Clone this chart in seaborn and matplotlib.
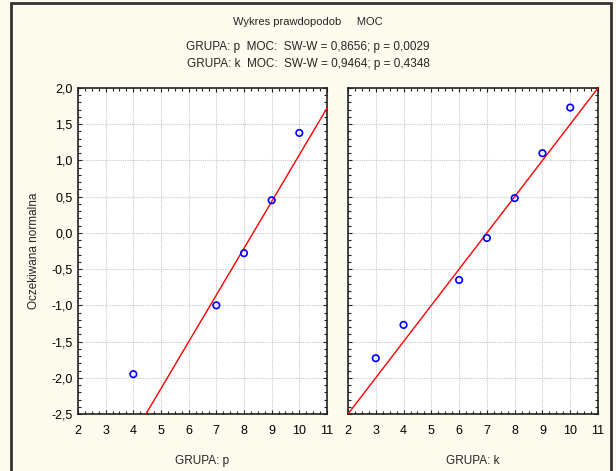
import numpy as np
import pandas as pd
import seaborn as sns
import matplotlib
matplotlib.use("Agg")
import matplotlib.pyplot as plt
from matplotlib.ticker import FuncFormatter, MultipleLocator
from matplotlib.patches import Rectangle

# ---- data ----
groups = ["p", "k"]
p_x = [4, 7, 8, 9, 10]
p_y = [-1.95, -1.0, -0.28, 0.45, 1.38]
k_x = [3, 4, 6, 7, 8, 9, 10]
k_y = [-1.73, -1.27, -0.65, -0.07, 0.48, 1.10, 1.73]
# normal reference line: expected = (x - mean) / sd
line_mean = [8.33, 7.0]
line_sd = [1.55, 2.0]
title = "Wykres prawdopodob     MOC"
stats_lines = ["GRUPA: p  MOC:  SW-W = 0,8656; p = 0,0029",
               "GRUPA: k  MOC:  SW-W = 0,9464; p = 0,4348"]
y_label = "Oczekiwana normalna"
x_labels = ["GRUPA: p", "GRUPA: k"]

sns.set_theme(style="white")
plt.rcParams['font.family'] = ['Liberation Sans', 'DejaVu Sans']

W, H = 616, 471
fig = plt.figure(figsize=(W / 100, H / 100), dpi=100)
fig.patch.set_facecolor("#FDFAEE")

# dark frame around figure
fig.add_artist(Rectangle((10.5 / W, -0.05), (611 - 10.5) / W, 1 - 3 / H + 0.05,
                         transform=fig.transFigure, fill=False,
                         edgecolor="#333333", linewidth=2.0))

def ax_rect(x0, x1, y0, y1):
    return [x0 / W, 1 - y1 / H, (x1 - x0) / W, (y1 - y0) / H]

axes = [fig.add_axes(ax_rect(78, 327, 88, 414)),
        fig.add_axes(ax_rect(348, 598, 88, 414))]

data = [(p_x, p_y), (k_x, k_y)]
fmt = FuncFormatter(lambda v, pos: f"{v:.1f}".replace(".", ","))

for i, ax in enumerate(axes):
    xs, ys = data[i]
    df = pd.DataFrame({"x": xs, "y": ys})
    lx = np.array([2.0, 11.0])
    ldf = pd.DataFrame({"x": lx, "y": (lx - line_mean[i]) / line_sd[i]})
    ax.set_facecolor("white")
    sns.lineplot(data=ldf, x="x", y="y", ax=ax, color="#FF0000", linewidth=1.0, zorder=3)
    sns.scatterplot(data=df, x="x", y="y", ax=ax, marker="o", s=22,
                    facecolor="none", edgecolor="#0000FF", linewidth=1.2, zorder=4)
    ax.set_xlim(2, 11)
    ax.set_ylim(-2.5, 2.0)
    ax.xaxis.set_major_locator(MultipleLocator(1))
    ax.xaxis.set_minor_locator(MultipleLocator(0.25))
    ax.yaxis.set_major_locator(MultipleLocator(0.5))
    ax.yaxis.set_minor_locator(MultipleLocator(0.1))
    ax.grid(True, which="major", linestyle=(0, (1, 1)), color="#C8C8C8", linewidth=0.8)
    ax.set_axisbelow(True)
    ax.tick_params(which="both", direction="in", top=True, right=True,
                   bottom=True, left=True, colors="#222222", labelcolor="black",
                   labelsize=9)
    ax.tick_params(which="major", length=3, width=0.8)
    ax.tick_params(which="minor", length=2, width=0.8)
    ax.tick_params(axis="x", which="major", pad=8)
    ax.tick_params(axis="y", which="major", pad=4)
    for s in ax.spines.values():
        s.set_color("#222222")
        s.set_linewidth(1.2)
    ax.set_xlabel(x_labels[i], fontsize=8.5, labelpad=13)
    if i == 0:
        ax.yaxis.set_major_formatter(fmt)
        ax.set_ylabel(y_label, fontsize=8.5, labelpad=8)
    else:
        ax.set_yticklabels([])
        ax.set_ylabel("")

fig.text(0.5, 1 - 22 / H, title, ha="center", va="center", fontsize=8)
fig.text(0.5, 1 - 47 / H, stats_lines[0], ha="center", va="center", fontsize=8.5)
fig.text(0.5, 1 - 64 / H, stats_lines[1], ha="center", va="center", fontsize=8.5)

fig.savefig("out.png", dpi=100, facecolor=fig.get_facecolor())
